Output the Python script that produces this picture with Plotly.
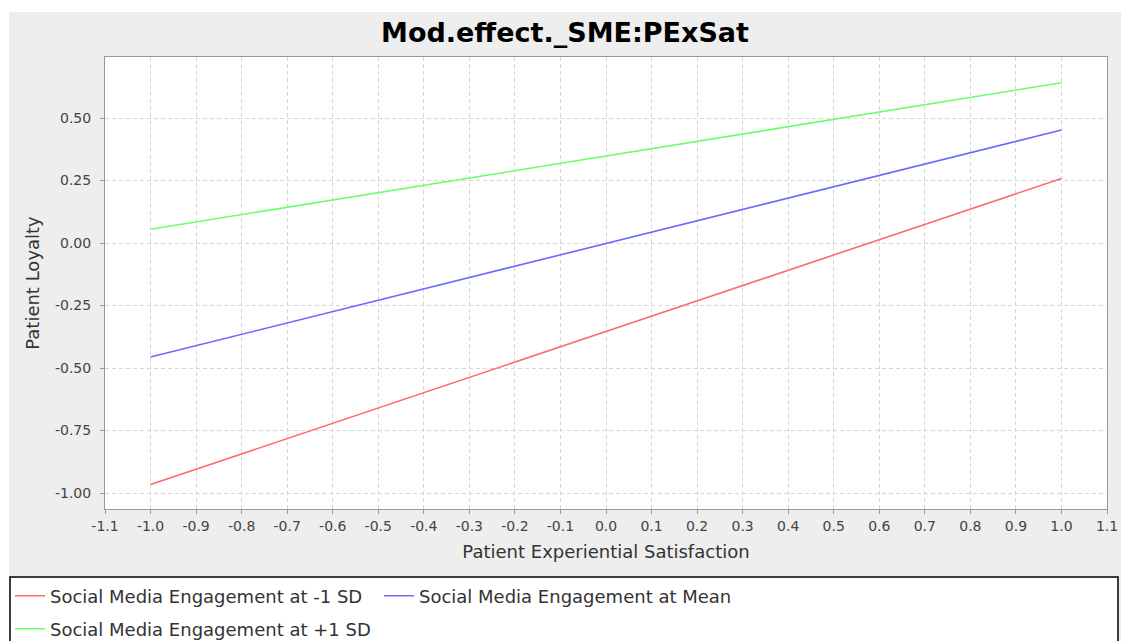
import plotly.graph_objects as go

# ---- data ----
x_vals = [-1.0, 1.0]
low_sd = [-0.966, 0.258]
mean_sd = [-0.456, 0.452]
high_sd = [0.055, 0.641]
series_names = ["Social Media Engagement at -1 SD",
                "Social Media Engagement at Mean",
                "Social Media Engagement at +1 SD"]
series_colors = ["#FF6A6A", "#6A6AFF", "#6AFF6A"]

x_tickvals = [-1.1, -1.0, -0.9, -0.8, -0.7, -0.6, -0.5, -0.4, -0.3, -0.2, -0.1,
              0.0, 0.1, 0.2, 0.3, 0.4, 0.5, 0.6, 0.7, 0.8, 0.9, 1.0, 1.1]
x_ticktext = ["-1.1", "-1.0", "-0.9", "-0.8", "-0.7", "-0.6", "-0.5", "-0.4", "-0.3", "-0.2", "-0.1",
              "0.0", "0.1", "0.2", "0.3", "0.4", "0.5", "0.6", "0.7", "0.8", "0.9", "1.0", "1.1"]
y_tickvals = [-1.0, -0.75, -0.5, -0.25, 0.0, 0.25, 0.5]
y_ticktext = ["-1.00", "-0.75", "-0.50", "-0.25", "0.00", "0.25", "0.50"]

W, H = 1121, 641
L, R, T, B = 105, 14, 57, 132
PW = W - L - R
PH = H - T - B

def px_x(p):
    return (p - L) / PW

def px_y(p):
    return (H - B - p) / PH

FONT = "DejaVu Sans"

fig = go.Figure()
for ys, name, col, leg in zip([low_sd, mean_sd, high_sd], series_names, series_colors,
                              ["legend", "legend", "legend2"]):
    fig.add_trace(go.Scatter(x=x_vals, y=ys, mode="lines", name=name,
                             line=dict(color=col, width=1.6), legend=leg))

axis_common = dict(showline=True, linecolor="#999999", linewidth=1, mirror=True,
                   ticks="outside", ticklen=4, tickcolor="#999999", automargin=False,
                   showgrid=True, gridcolor="#D6D6D6", griddash="4px,3px", gridwidth=1,
                   zeroline=False, tickfont=dict(family=FONT, size=14, color="#444444"))

fig.update_xaxes(range=[-1.1, 1.1], tickvals=x_tickvals, ticktext=x_ticktext,
                 title=dict(text="Patient Experiential Satisfaction",
                            font=dict(family=FONT, size=18, color="#333333"), standoff=12),
                 **axis_common)
fig.update_yaxes(range=[-1.064, 0.744], tickvals=y_tickvals, ticktext=y_ticktext,
                 ticklabelstandoff=6,
                 title=dict(text="Patient Loyalty",
                            font=dict(family=FONT, size=18, color="#333333"), standoff=10),
                 **axis_common)

shapes = [
    # grey chart panel
    dict(type="rect", xref="paper", yref="paper", x0=px_x(9), x1=px_x(W + 5),
         y0=px_y(H + 5), y1=px_y(12), fillcolor="#EEEEEE", line=dict(width=0), layer="below"),
    # white plot area
    dict(type="rect", xref="paper", yref="paper", x0=0, x1=1, y0=0, y1=1,
         fillcolor="#FFFFFF", line=dict(width=0), layer="below"),
    # legend box
    dict(type="rect", xref="paper", yref="paper", x0=px_x(10), x1=px_x(1118),
         y0=px_y(H + 5), y1=px_y(577), fillcolor="#FFFFFF",
         line=dict(color="#000000", width=1.5), layer="below"),
]

legend_common = dict(orientation="h", xref="container", yref="container",
                     xanchor="left", yanchor="middle", bgcolor="rgba(0,0,0,0)",
                     borderwidth=0, font=dict(family=FONT, size=18, color="#333333"),
                     entrywidth=324, entrywidthmode="pixels", itemwidth=30)

fig.update_layout(
    width=W, height=H, autosize=False,
    margin=dict(l=L, r=R, t=T, b=B, autoexpand=False),
    paper_bgcolor="#FFFFFF", plot_bgcolor="rgba(0,0,0,0)",
    title=dict(text="<b>Mod.effect._SME:PExSat</b>", x=565 / W, xanchor="center",
               y=1 - 33 / H, yanchor="middle", xref="container", yref="container",
               font=dict(family=FONT, size=27, color="#000000")),
    shapes=shapes,
    showlegend=True,
    legend=dict(x=10 / W, y=1 - 596 / H, **legend_common),
    legend2=dict(x=10 / W, y=1 - 629 / H, **legend_common),
)

post = ("document.body.style.margin='0';document.body.style.overflow='hidden';")

fig.write_html("out.html", config={"displayModeBar": False, "responsive": False},
               post_script=post)
